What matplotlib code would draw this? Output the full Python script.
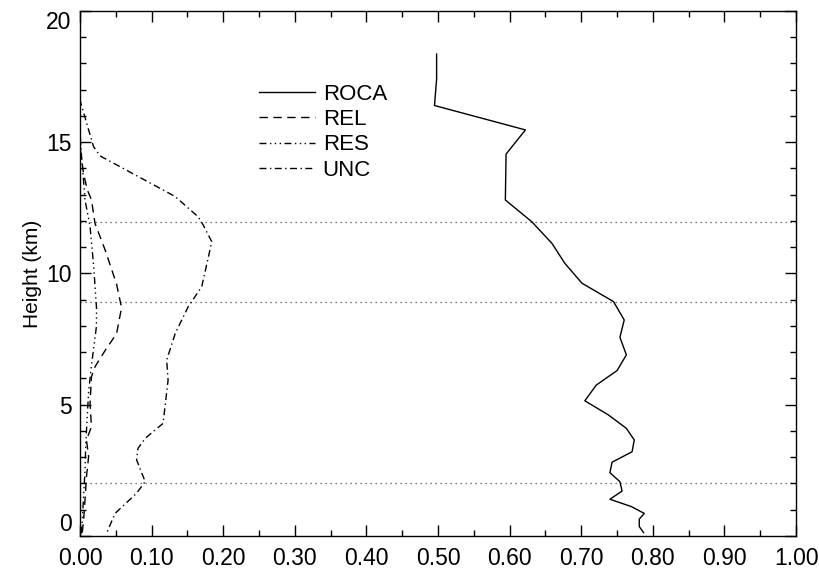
"""
Vertical profiles of ROCA score and its decomposition (REL, RES, UNC)
"""

import matplotlib
matplotlib.use("Agg")
import matplotlib.pyplot as plt
from matplotlib.ticker import MultipleLocator, FormatStrFormatter

plt.rcParams['font.family'] = ['Liberation Sans', 'DejaVu Sans']

# ROCA profile
roca_height = [18.36, 17.4, 16.4, 15.47, 14.55, 12.8, 11.97, 11.15, 10.39, 9.63,
               8.93, 8.23, 7.57, 6.90, 6.30, 5.75, 5.15, 4.61, 4.10, 3.66,
               3.21, 2.81, 2.41, 2.07, 1.71, 1.40, 1.12, 0.86, 0.64, 0.36, 0.13]
roca = [0.498, 0.498, 0.495, 0.622, 0.595, 0.594, 0.631, 0.659, 0.677, 0.701,
        0.745, 0.760, 0.754, 0.763, 0.750, 0.721, 0.705, 0.738, 0.763, 0.774,
        0.771, 0.743, 0.740, 0.754, 0.757, 0.740, 0.770, 0.788, 0.781, 0.781, 0.787]

# reliability term
rel_height = [18.4, 14.8, 13.8, 13.2, 12.8, 11.9, 10.9, 9.6, 8.7, 7.7, 7.15,
              6.45, 6.07, 5.05, 4.16, 3.66, 3.02, 2.26, 1.37, 0.61, 0.1]
rel = [0.0, 0.0, 0.005, 0.010, 0.016, 0.021, 0.035, 0.051, 0.058, 0.051, 0.037,
       0.021, 0.016, 0.014, 0.016, 0.009, 0.012, 0.009, 0.007, 0.005, 0.003]

# resolution term
res_height = [18.4, 15.5, 14.5, 13.5, 12.8, 11.8, 10.3, 8.7, 8.0, 6.5, 5.5,
              4.5, 3.5, 2.5, 1.5, 0.5, 0.1]
res = [0.0, 0.0, 0.002, 0.005, 0.007, 0.014, 0.019, 0.023, 0.023, 0.016, 0.012,
       0.010, 0.008, 0.007, 0.005, 0.003, 0.002]

# uncertainty term
unc_height = [18.4, 16.6, 15.47, 14.83, 14.48, 12.93, 12.16, 11.85, 11.21, 9.50,
              8.73, 7.72, 6.70, 5.94, 4.29, 3.72, 3.34, 2.90, 2.07, 1.63, 0.86, 0.10]
unc = [0.0, 0.0, 0.012, 0.019, 0.028, 0.133, 0.165, 0.172, 0.184, 0.170,
       0.151, 0.133, 0.121, 0.123, 0.116, 0.091, 0.081, 0.079, 0.091, 0.079, 0.049, 0.037]

# reference levels
level_lines = [2.0, 8.9, 11.97]
height_ticks = [0, 5, 10, 15, 20]

fig = plt.figure(figsize=(8.19, 5.73), dpi=100)
ax = fig.add_axes([0.0977, 0.0646, 0.8743, 0.9162])

for level in level_lines:
    ax.axhline(level, color="0.3", lw=0.9, ls=(0, (1, 3)), zorder=1)

ax.plot(roca, roca_height, color="black", lw=1.0, label="ROCA")
ax.plot(rel, rel_height, color="black", lw=1.0, ls=(0, (6, 4)), label="REL")
ax.plot(res, res_height, color="black", lw=1.0,
        ls=(0, (5, 2.5, 1, 2.5, 1, 2.5, 1, 2.5)), label="RES")
ax.plot(unc, unc_height, color="black", lw=1.0, ls=(0, (5, 2.5, 1, 2.5)), label="UNC")

ax.set_xlim(0, 1)
ax.set_ylim(0, 20)

# ticks inside on all four sides
ax.xaxis.set_major_locator(MultipleLocator(0.1))
ax.xaxis.set_minor_locator(MultipleLocator(0.05))
ax.xaxis.set_major_formatter(FormatStrFormatter("%.2f"))
ax.set_yticks(height_ticks)
ax.yaxis.set_minor_locator(MultipleLocator(1))
ax.tick_params(which="both", direction="in", top=True, right=True, labelsize=16.5)
ax.tick_params(which="major", length=8, width=1)
ax.tick_params(which="minor", length=4.5, width=1)
ax.tick_params(axis="x", pad=8)
ax.tick_params(axis="y", pad=6)
for spine in ax.spines.values():
    spine.set_linewidth(1.0)

# keep the end labels of the height axis inside the frame
yticks = ax.yaxis.get_major_ticks()
yticks[0].label1.set_verticalalignment("bottom")
yticks[-1].label1.set_verticalalignment("top")

ax.set_ylabel("Height (km)", fontsize=15, labelpad=3)

leg = ax.legend(loc="upper left", bbox_to_anchor=(0.235, 0.883), frameon=False,
                fontsize=16, handlelength=2.5, handletextpad=0.35,
                labelspacing=0.2, borderpad=0)

fig.savefig("out.png", dpi=100)
